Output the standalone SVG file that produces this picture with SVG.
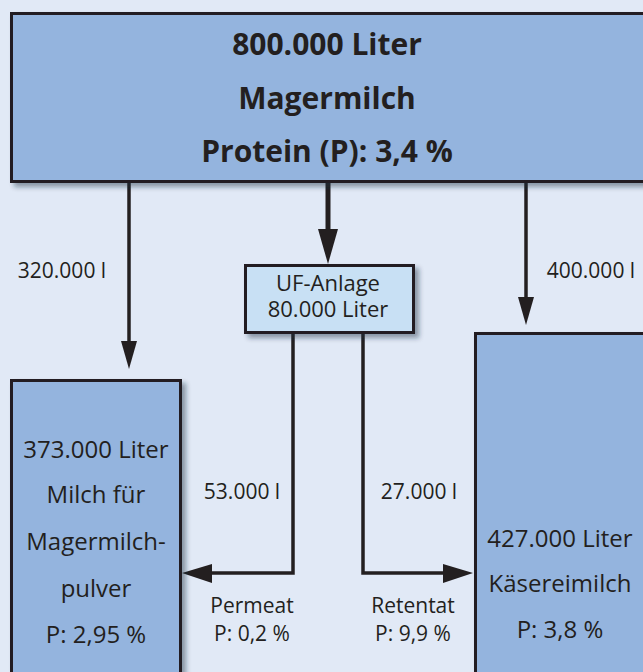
<svg xmlns="http://www.w3.org/2000/svg" width="643" height="672" viewBox="0 0 643 672">
  <defs>
    <filter id="sh" x="-10%" y="-10%" width="130%" height="130%">
      <feDropShadow dx="4" dy="4" stdDeviation="2.5" flood-color="#1a2a40" flood-opacity="0.45"/>
    </filter>
    <style>
      text { font-family: "Open Sans", "Liberation Sans", sans-serif; fill: #231f20; text-anchor: middle; }
      .title { font-size: 30px; font-weight: bold; }
      .box { fill: #94b4de; stroke: #231f20; stroke-width: 3; }
      .uf { fill: #c8e0f4; stroke: #231f20; stroke-width: 3; }
      .t24 { font-size: 24px; }
      .t22 { font-size: 22px; }
      .lbl { font-size: 21px; }
      .ln { fill: none; stroke: #231f20; stroke-width: 3.5; }
      .head { fill: #231f20; }
    </style>
  </defs>
  <rect x="0" y="0" width="643" height="672" fill="#e1e9f6"/>

  <g id="connectors">
    <line class="ln" x1="129" y1="182" x2="129" y2="345"/>
    <polygon class="head" points="121,341 137,341 129,369"/>
    <line class="ln" x1="328" y1="182" x2="328" y2="232" style="stroke-width:5"/>
    <polygon class="head" points="318,229 338,229 328,264"/>
    <line class="ln" x1="526" y1="182" x2="526" y2="300"/>
    <polygon class="head" points="518,297 534,297 526,325"/>
    <polyline class="ln" points="293,333 293,573 210,573"/>
    <polygon class="head" points="212,564 212,583 182,573"/>
    <polyline class="ln" points="363,333 363,573 446,573"/>
    <polygon class="head" points="443,564 443,583 473,573"/>
  </g>

  <g id="top">
    <rect class="box" x="11.5" y="13.5" width="700" height="168" filter="url(#sh)"/>
    <text class="title" x="327" y="55">800.000 Liter</text>
    <text class="title" x="327" y="109">Magermilch</text>
    <text class="title" x="327" y="162">Protein (P): 3,4 %</text>
  </g>

  <g id="uf">
    <rect class="uf" x="245.5" y="265.5" width="168" height="67" filter="url(#sh)"/>
    <text class="t22" x="328" y="291">UF-Anlage</text>
    <text class="t22" x="328" y="317">80.000 Liter</text>
  </g>

  <g id="left">
    <rect class="box" x="11.5" y="380.5" width="169" height="320" filter="url(#sh)"/>
    <text class="t24" x="96" y="458">373.000 Liter</text>
    <text class="t24" x="96" y="503">Milch für</text>
    <text class="t24" x="96" y="550">Magermilch-</text>
    <text class="t24" x="96" y="597">pulver</text>
    <text class="t24" x="96" y="643">P: 2,95 %</text>
  </g>

  <g id="right">
    <rect class="box" x="475.5" y="333.5" width="220" height="360" filter="url(#sh)"/>
    <text class="t24" x="560" y="547">427.000 Liter</text>
    <text class="t24" x="560" y="592">Käsereimilch</text>
    <text class="t24" x="560" y="638">P: 3,8 %</text>
  </g>

  <g id="labels">
    <text class="lbl" x="62" y="278">320.000 l</text>
    <text class="lbl" x="591" y="278">400.000 l</text>
    <text class="lbl" x="242" y="499">53.000 l</text>
    <text class="lbl" x="419" y="499">27.000 l</text>
    <text class="lbl" x="252" y="613">Permeat</text>
    <text class="lbl" x="252" y="641">P: 0,2 %</text>
    <text class="lbl" x="413" y="613">Retentat</text>
    <text class="lbl" x="413" y="641">P: 9,9 %</text>
  </g>
</svg>
